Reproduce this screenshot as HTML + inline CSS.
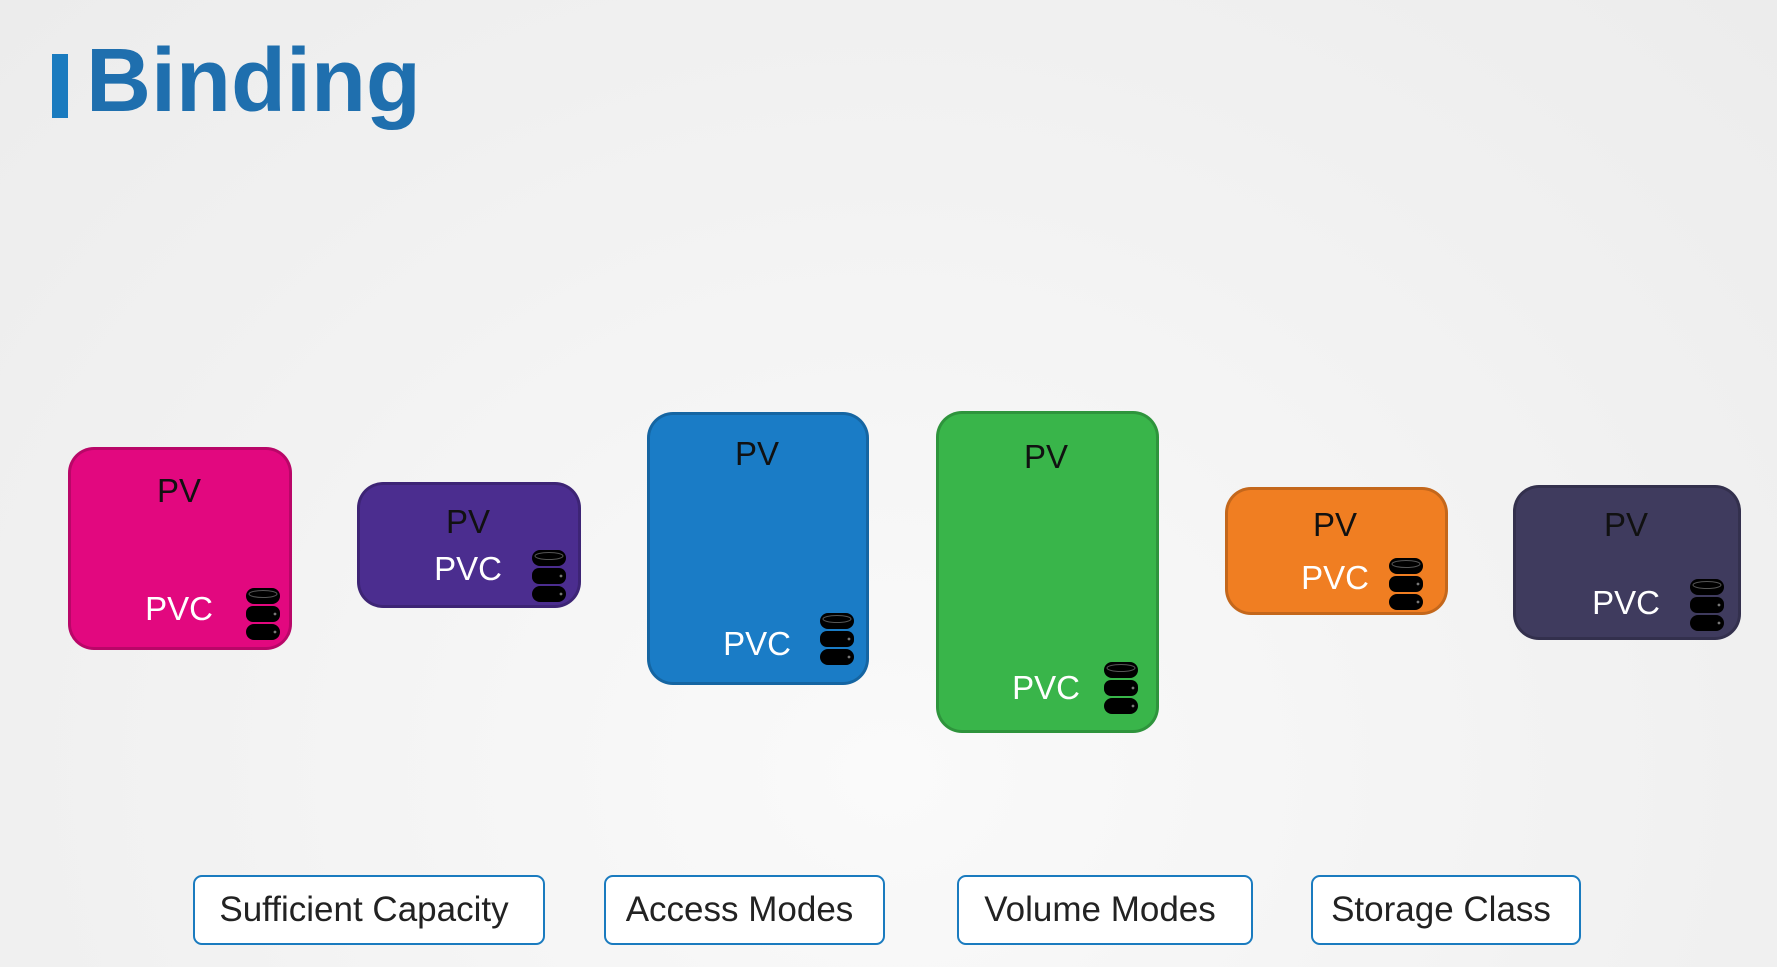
<!DOCTYPE html>
<html><head><meta charset="utf-8"><style>
*{margin:0;padding:0;box-sizing:border-box}
body{width:1777px;height:967px;position:relative;overflow:hidden;background:radial-gradient(ellipse at 50% 80%,#fafafa 0%,#f0f0f0 70%,#ececec 100%);font-family:"Liberation Sans",sans-serif}
.bar{position:absolute;left:52px;top:54px;width:16px;height:64px;background:#1a7bbf}
.title{position:absolute;left:86px;top:30px;font-size:90px;font-weight:bold;color:#1f6fae;letter-spacing:0px}
.box{position:absolute;border-radius:26px;border:3px solid rgba(0,0,0,0.18)}
.t{position:absolute;transform:translate(-50%,-50%);font-size:33px;white-space:nowrap}
.pv{color:#111}.pvc{color:#fff}
.ic{position:absolute;transform:translate(-50%,-50%);width:36px;height:54px}
.lab{position:absolute;top:875px;height:70px;border:2px solid #1a7bbf;border-radius:9px;background:#fff;font-size:35px;color:#222;display:flex;align-items:center;justify-content:center;padding-right:10px}
</style></head><body>
<div class="bar"></div><div class="title">Binding</div>

<svg width="0" height="0" style="position:absolute"><defs><symbol id="db" viewBox="0 0 36 54">
<rect x="1" y="1" width="34" height="16" rx="8" fill="#000"/><rect x="1" y="19" width="34" height="16" rx="7" fill="#000"/><rect x="1" y="37" width="34" height="16" rx="8" fill="#000"/>
<ellipse cx="18" cy="7" rx="14" ry="3.5" fill="none" stroke="#555" stroke-width="1"/>
<circle cx="30" cy="27" r="1.4" fill="#777"/><circle cx="30" cy="45" r="1.4" fill="#777"/></symbol></defs></svg>

<div class="box" style="left:68px;top:447px;width:224px;height:203px;background:#e2087f"></div>
<div class="box" style="left:357px;top:482px;width:224px;height:126px;background:#4b2d8f"></div>
<div class="box" style="left:647px;top:412px;width:222px;height:273px;background:#1a7cc6"></div>
<div class="box" style="left:936px;top:411px;width:223px;height:322px;background:#39b54a"></div>
<div class="box" style="left:1225px;top:487px;width:223px;height:128px;background:#f07e22"></div>
<div class="box" style="left:1513px;top:485px;width:228px;height:155px;background:#3f3b5e"></div>

<div class="t pv" style="left:179px;top:491px">PV</div><div class="t pvc" style="left:179px;top:609px">PVC</div><svg class="ic" style="left:263px;top:614px"><use href="#db"/></svg>
<div class="t pv" style="left:468px;top:522px">PV</div><div class="t pvc" style="left:468px;top:569px">PVC</div><svg class="ic" style="left:549px;top:576px"><use href="#db"/></svg>
<div class="t pv" style="left:757px;top:454px">PV</div><div class="t pvc" style="left:757px;top:644px">PVC</div><svg class="ic" style="left:837px;top:639px"><use href="#db"/></svg>
<div class="t pv" style="left:1046px;top:457px">PV</div><div class="t pvc" style="left:1046px;top:688px">PVC</div><svg class="ic" style="left:1121px;top:688px"><use href="#db"/></svg>
<div class="t pv" style="left:1335px;top:525px">PV</div><div class="t pvc" style="left:1335px;top:578px">PVC</div><svg class="ic" style="left:1406px;top:584px"><use href="#db"/></svg>
<div class="t pv" style="left:1626px;top:525px">PV</div><div class="t pvc" style="left:1626px;top:603px">PVC</div><svg class="ic" style="left:1707px;top:605px"><use href="#db"/></svg>

<div class="lab" style="left:193px;width:352px">Sufficient Capacity</div>
<div class="lab" style="left:604px;width:281px">Access Modes</div>
<div class="lab" style="left:957px;width:296px">Volume Modes</div>
<div class="lab" style="left:1311px;width:270px">Storage Class</div>
</body></html>
